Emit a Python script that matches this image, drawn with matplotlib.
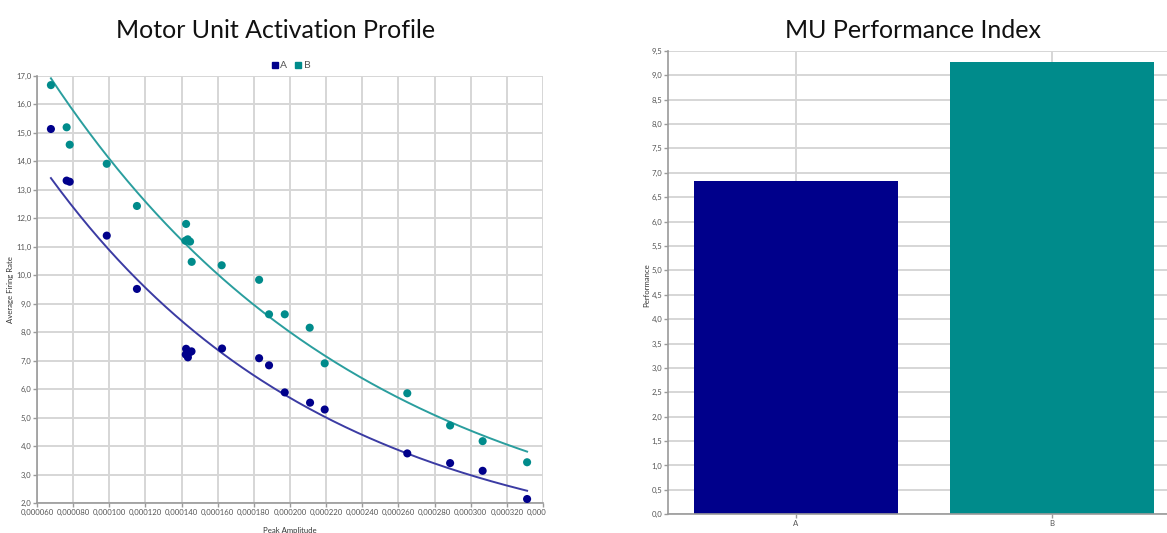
import numpy as np
import matplotlib
matplotlib.use("Agg")
import matplotlib.pyplot as plt
from matplotlib.lines import Line2D
from matplotlib.ticker import FuncFormatter, MultipleLocator
from matplotlib.transforms import Bbox, TransformedBbox
from matplotlib import font_manager

# ---------------- data ----------------
series_names = ["A", "B"]
a_amp = [67.7e-6, 76.4e-6, 78.1e-6, 98.6e-6, 115.3e-6, 142.5e-6, 142.3e-6, 143.5e-6, 144.5e-6, 145.5e-6,
         162.4e-6, 182.9e-6, 188.4e-6, 197.1e-6, 211.1e-6, 219.2e-6, 264.9e-6, 288.6e-6, 306.6e-6, 331.2e-6]
a_rate = [15.13, 13.32, 13.28, 11.39, 9.52, 7.42, 7.22, 7.12, 7.30, 7.33,
          7.43, 7.09, 6.84, 5.89, 5.53, 5.29, 3.75, 3.41, 3.14, 2.15]
b_amp = [67.7e-6, 76.4e-6, 78.1e-6, 98.6e-6, 115.3e-6, 142.5e-6, 142.1e-6, 143.4e-6, 144.7e-6, 145.6e-6,
         162.2e-6, 182.9e-6, 188.4e-6, 197.1e-6, 210.9e-6, 219.2e-6, 264.9e-6, 288.6e-6, 306.6e-6, 331.2e-6]
b_rate = [16.67, 15.19, 14.58, 13.91, 12.43, 11.80, 11.21, 11.26, 11.18, 10.47,
          10.35, 9.84, 8.63, 8.63, 8.16, 6.91, 5.86, 4.73, 4.18, 3.44]
perf_categories = ["A", "B"]
perf_values = [6.82, 9.27]

COL_A = "#00008b"
COL_B = "#008b8b"
LINE_A = "#3b3ba3"
LINE_B = "#2a9e9e"
GRID = "#d6d6d6"
AXC = "#9a9a9a"
TXT = "#555555"

installed = {f.name for f in font_manager.fontManager.ttflist}
SMALL = ["Liberation Sans Narrow", "DejaVu Sans"] if "Liberation Sans Narrow" in installed else ["Lato", "DejaVu Sans"]
SMALL_SIZE = 6.5 if "Liberation Sans Narrow" in installed else 5.6
plt.rcParams["font.family"] = SMALL

W, H = 1167, 533
fig = plt.figure(figsize=(W / 100, H / 100), dpi=100)
fig.patch.set_facecolor("white")


def fx(px):
    return px / W


def fy(py):
    return 1 - py / H


# ---------------- left scatter ----------------
L, R, T, B = 37, 543, 75.7, 503.3
ax = fig.add_axes([fx(L), fy(B), fx(R - L), (B - T) / H])
ax.set_xlim(0.00006, 0.00034)
ax.set_ylim(2.0, 17.0)
ax.xaxis.set_major_locator(MultipleLocator(0.00002))
ax.yaxis.set_major_locator(MultipleLocator(1.0))
ax.xaxis.set_major_formatter(FuncFormatter(lambda v, p: f"{v:.6f}".replace(".", ",")))
ax.yaxis.set_major_formatter(FuncFormatter(lambda v, p: f"{v:.1f}".replace(".", ",")))
ax.grid(True, color=GRID, linewidth=1.4, zorder=0)
ax.set_axisbelow(True)
for s in ["top", "right"]:
    ax.spines[s].set_visible(False)
for s in ["left", "bottom"]:
    ax.spines[s].set_color(AXC)
    ax.spines[s].set_linewidth(1.2)
ax.tick_params(axis="both", colors=AXC, labelcolor=TXT, labelsize=SMALL_SIZE, length=3, width=1, pad=1.2)

for xs, ys, c, lc in [(a_amp, a_rate, COL_A, LINE_A), (b_amp, b_rate, COL_B, LINE_B)]:
    xs = np.array(xs)
    ys = np.array(ys)
    bcoef, acoef = np.polyfit(xs, np.log(ys), 1)
    xx = np.linspace(xs.min(), xs.max(), 200)
    ax.plot(xx, np.exp(acoef + bcoef * xx), color=lc, linewidth=1.4, zorder=2)
    ax.scatter(xs, ys, s=34, color=c, edgecolors="none", zorder=3)

clip = TransformedBbox(Bbox([[0, 0], [fx(546), 1]]), fig.transFigure)
for lab in ax.get_xticklabels():
    lab.set_clip_box(clip)
    lab.set_clip_on(True)

handles = [Line2D([], [], marker="s", linestyle="none", color=COL_A, markersize=5),
           Line2D([], [], marker="s", linestyle="none", color=COL_B, markersize=5)]
leg = ax.legend(handles, series_names, loc="lower center", bbox_to_anchor=(0.5, 1.0), ncol=2,
                frameon=False, fontsize=7.5, handletextpad=0.0, columnspacing=0.6,
                handlelength=1.0, borderaxespad=0.1)
for t in leg.get_texts():
    t.set_color(TXT)

TITLE_FONT = ["Lato", "DejaVu Sans"]
fig.text(fx(276), fy(31), "Motor Unit Activation Profile", fontsize=18, ha="center", va="center",
         color="#111111", family=TITLE_FONT)
fig.text(fx(11), fy(290), "Average Firing Rate", fontsize=SMALL_SIZE, rotation=90, ha="center", va="center", color="#333333")
fig.text(fx(290), fy(530), "Peak Amplitude", fontsize=SMALL_SIZE, ha="center", va="center", color="#333333")

# ---------------- right bar chart ----------------
L2, R2, T2, B2 = 668, 1180, 50.7, 514.3
ax2 = fig.add_axes([fx(L2), fy(B2), fx(R2 - L2), (B2 - T2) / H])
x = np.arange(len(perf_categories))
ax2.bar(x, perf_values, width=0.8, color=[COL_A, COL_B], edgecolor="none", zorder=2)
ax2.set_xlim(-0.5, 1.5)
ax2.set_ylim(0, 9.5)
ax2.set_xticks(x)
ax2.set_xticklabels(perf_categories)
ax2.yaxis.set_major_locator(MultipleLocator(0.5))
ax2.yaxis.set_major_formatter(FuncFormatter(lambda v, p: f"{v:.1f}".replace(".", ",")))
ax2.grid(True, color=GRID, linewidth=1.4, zorder=0)
ax2.set_axisbelow(True)
for s in ["top", "right"]:
    ax2.spines[s].set_visible(False)
for s in ["left", "bottom"]:
    ax2.spines[s].set_color(AXC)
    ax2.spines[s].set_linewidth(1.2)
ax2.tick_params(axis="both", colors=AXC, labelcolor=TXT, labelsize=SMALL_SIZE, length=3, width=1, pad=1.2)

fig.text(fx(913), fy(31), "MU Performance Index", fontsize=18, ha="center", va="center",
         color="#111111", family=TITLE_FONT)
fig.text(fx(647), fy(285), "Performance", fontsize=SMALL_SIZE, rotation=90, ha="center", va="center", color="#333333")

fig.savefig("out.png", dpi=100)
